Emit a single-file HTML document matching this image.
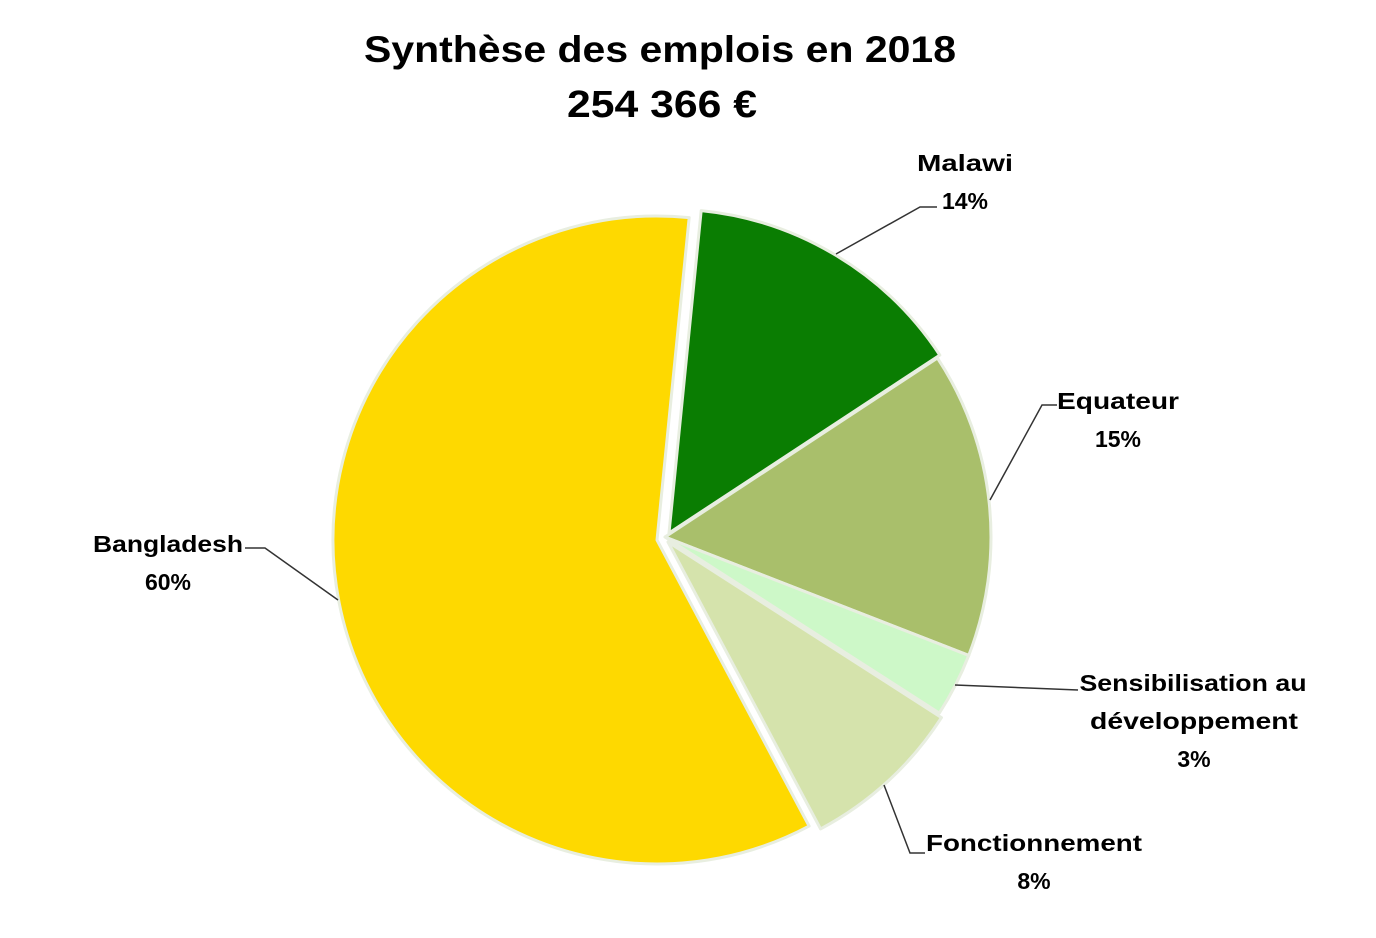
<!DOCTYPE html>
<html><head><meta charset="utf-8"><style>
html,body{margin:0;padding:0;background:#fff;}
svg{display:block;}
text{font-family:"Liberation Sans",Arial,sans-serif;font-weight:bold;fill:#000;}
</style></head><body>
<svg width="1376" height="938" viewBox="0 0 1376 938" xmlns="http://www.w3.org/2000/svg">
<text x="660" y="62" font-size="37" text-anchor="middle" textLength="592" lengthAdjust="spacingAndGlyphs">Synthèse des emplois en 2018</text>
<text x="662" y="117" font-size="38" text-anchor="middle" textLength="190" lengthAdjust="spacingAndGlyphs">254 366 €</text>
<g stroke="#e8eee0" stroke-width="3" stroke-linejoin="round">
<path id="b" fill="#fed900"/>
<path id="m" fill="#0a7d02"/>
<path id="e" fill="#a9bf6b"/>
<path id="s" fill="#cdf8c8"/>
<path id="f" fill="#d5e3ac"/>
</g>
<g stroke="#333" stroke-width="1.5" fill="none">
<polyline points="937,207 920,207 836,254"/>
<polyline points="1057,405 1042,405 990,500"/>
<polyline points="245,548 265,548 338,600"/>
<polyline points="1078,690 955,685"/>
<polyline points="925,853 910,853 884,785"/>
</g>
<g font-size="23" text-anchor="middle">
<text x="965" y="171" textLength="96" lengthAdjust="spacingAndGlyphs">Malawi</text>
<text x="965" y="209">14%</text>
<text x="1118" y="409" textLength="122" lengthAdjust="spacingAndGlyphs">Equateur</text>
<text x="1118" y="447">15%</text>
<text x="168" y="552" textLength="150" lengthAdjust="spacingAndGlyphs">Bangladesh</text>
<text x="168" y="590">60%</text>
<text x="1193" y="691" textLength="227" lengthAdjust="spacingAndGlyphs">Sensibilisation au</text>
<text x="1194" y="729" textLength="208" lengthAdjust="spacingAndGlyphs">développement</text>
<text x="1194" y="767">3%</text>
<text x="1034" y="851" textLength="216" lengthAdjust="spacingAndGlyphs">Fonctionnement</text>
<text x="1034" y="889">8%</text>
</g>
<script>
function arc(id,cx,cy,r,a0,a1){
 const rad=a=>a*Math.PI/180;
 const x0=cx+r*Math.sin(rad(a0)),y0=cy-r*Math.cos(rad(a0));
 const x1=cx+r*Math.sin(rad(a1)),y1=cy-r*Math.cos(rad(a1));
 const large=(a1-a0)>180?1:0;
 document.getElementById(id).setAttribute('d',`M${cx},${cy} L${x0},${y0} A${r},${r} 0 ${large} 1 ${x1},${y1} Z`);
}
arc('b',657,540,324,152,365.7);
arc('m',669,533,324,5.7,56.7);
arc('e',665,537,326,56.7,111.3);
arc('s',665,537,326,111.3,122.7);
arc('f',668,542,325,122.7,152);
</script>
</svg>
</body></html>
